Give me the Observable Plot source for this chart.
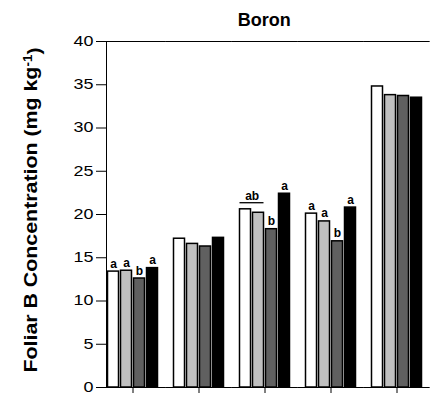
<!DOCTYPE html>
<html><head><meta charset="utf-8">
<script src="https://cdn.jsdelivr.net/npm/d3@7"></script>
<script src="https://cdn.jsdelivr.net/npm/@observablehq/plot@0.6"></script>
<style>
body{margin:0;background:#fff;}
</style></head><body><div id="chart"></div>
<script>
const groups = ["G1","G2","G3","G4","G5"];
const treatments = ["T1","T2","T3","T4"];
const colors = ["#ffffff","#c0c0c0","#606060","#000000"];
const valuesG1 = [13.4, 13.5, 12.6, 13.8];
const valuesG2 = [17.2, 16.6, 16.3, 17.3];
const valuesG3 = [20.6, 20.2, 18.3, 22.4];
const valuesG4 = [20.1, 19.2, 16.9, 20.8];
const valuesG5 = [34.8, 33.8, 33.7, 33.5];
const lettersG1 = ["a","a","b","a"];
const lettersG2 = ["","","",""];
const lettersG3 = ["","","b","a"];
const lettersG4 = ["a","a","b","a"];
const lettersG5 = ["","","",""];
const jointLabel = {group: "G3", from: "T1", to: "T2", text: "ab"};
const yTicks = [0,5,10,15,20,25,30,35,40];

const allValues = [valuesG1, valuesG2, valuesG3, valuesG4, valuesG5];
const allLetters = [lettersG1, lettersG2, lettersG3, lettersG4, lettersG5];
const rows = [];
groups.forEach((g, gi) => treatments.forEach((t, ti) => rows.push({g, t, v: allValues[gi][ti], label: allLetters[gi][ti]})));
const jointRows = [{g: jointLabel.group, text: jointLabel.text,
  v: Math.max(...rows.filter(r => r.g === jointLabel.group && (r.t === jointLabel.from || r.t === jointLabel.to)).map(r => r.v))}];

const W = 431, H = 393, ML = 97.5, MT = 41, MB = 6, MR = 0;
const fxStep = (W - ML - MR) / 5;
const gap = fxStep * 0.1;

const plot = Plot.plot({
  width: W, height: H,
  marginLeft: ML, marginRight: MR, marginTop: MT, marginBottom: MB,
  style: {fontFamily: "Liberation Sans, Arial, sans-serif", fontSize: "14px", color: "#000", background: "#fff", overflow: "visible"},
  fx: {domain: groups, paddingInner: 0.2, paddingOuter: 0.1, axis: "bottom", tickSize: 6, tickFormat: () => "", label: null},
  x: {domain: treatments, paddingInner: 0.13, paddingOuter: 0.065, axis: null},
  y: {domain: [0, 40], ticks: yTicks, tickSize: 10, tickPadding: 3, line: true, label: null},
  color: {domain: treatments, range: colors},
  marks: [
    Plot.barY(rows, {fx: "g", x: "t", y: "v", fill: "t", stroke: "#000", strokeWidth: 1.5}),
    Plot.ruleY([0, 40], {stroke: "#000", strokeWidth: 1.2, insetLeft: -gap, insetRight: -gap}),
    Plot.text(rows.filter(r => r.label), {fx: "g", x: "t", y: "v", text: "label", lineAnchor: "bottom", dy: -4, fontSize: 12, fontWeight: "bold", fill: "#000"}),
    Plot.ruleY(jointRows, {fx: "g", y: "v", x1: () => jointLabel.from, x2: () => jointLabel.to, dy: -6.6, stroke: "#000", strokeWidth: 1.3}),
    Plot.text(jointRows, {fx: "g", x: () => jointLabel.from, y: "v", text: "text", lineAnchor: "bottom", dy: -9, dx: fxStep * 0.1, fontSize: 12, fontWeight: "bold", fill: "#000"})
  ]
});
document.getElementById("chart").appendChild(plot);

const svg = d3.select(plot);
// widen y tick labels to match the reference's proportions
svg.selectAll("[aria-label='y-axis'] text, [aria-label='y-axis tick label'] text").each(function() {
  const len = this.getComputedTextLength();
  if (len > 0) { this.setAttribute("textLength", len * 1.28); this.setAttribute("lengthAdjust", "spacingAndGlyphs"); }
});
svg.append("text")
  .attr("x", ML + (W - ML - MR) / 2).attr("y", 26)
  .attr("text-anchor", "middle")
  .style("font-family", "Liberation Sans, Arial, sans-serif")
  .style("font-weight", "bold").style("font-size", "18px")
  .text("Boron");
const yl = svg.append("text")
  .attr("transform", `translate(37,210) rotate(-90)`)
  .attr("text-anchor", "middle")
  .attr("textLength", 325).attr("lengthAdjust", "spacingAndGlyphs")
  .style("font-family", "Liberation Sans, Arial, sans-serif")
  .style("font-weight", "bold").style("font-size", "19px");
yl.append("tspan").text("Foliar B Concentration (mg kg");
yl.append("tspan").attr("dy", "-0.45em").style("font-size", "12px").text("-1");
yl.append("tspan").attr("dy", "0.45em").text(")");
</script></body></html>
